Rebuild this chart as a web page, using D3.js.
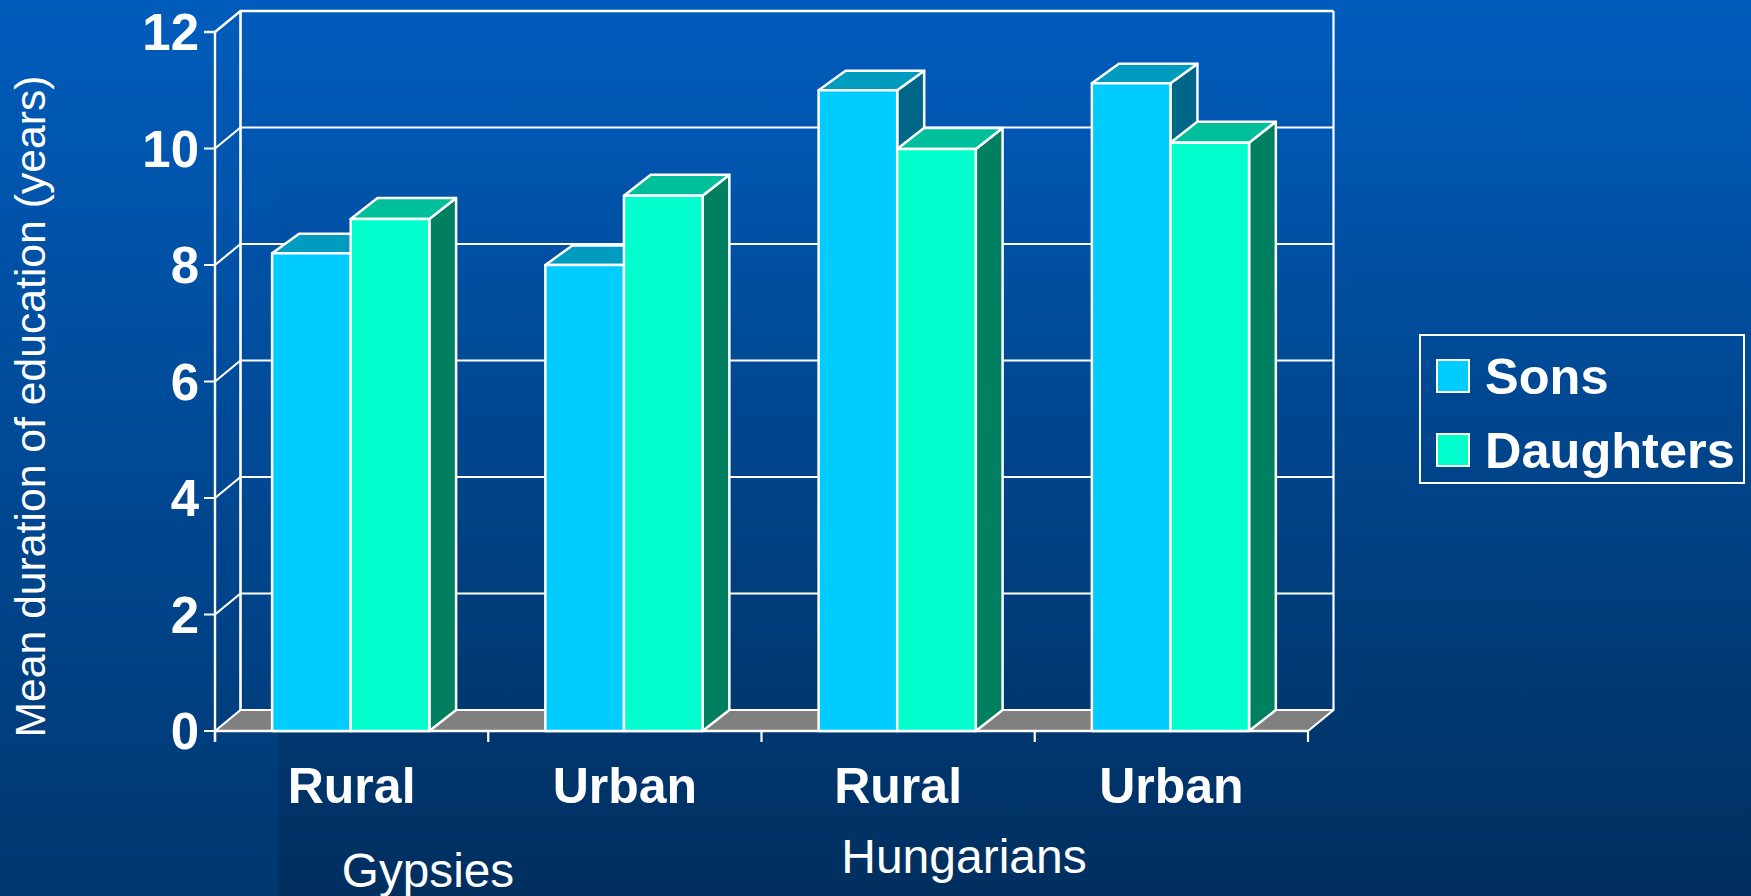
<!DOCTYPE html>
<html><head><meta charset="utf-8">
<style>html,body{margin:0;padding:0;background:#003060;overflow:hidden}svg{display:block}
text{font-family:"Liberation Sans",Arial,sans-serif;fill:#fff}</style>
<script src="https://cdn.jsdelivr.net/npm/d3@7/dist/d3.min.js"></script></head><body>
<script>
const categories=["Rural","Urban","Rural","Urban"];
const groupLabels=["Gypsies","Hungarians"];
const seriesNames=["Sons","Daughters"];
const sons=[8.2,8.0,11.0,11.12];
const daughters=[8.79,9.19,9.99,10.1];
const yTicks=[0,2,4,6,8,10,12];
const yTitle="Mean duration of education (years)";

const W=1751,H=896;
const svg=d3.select("body").append("svg").attr("width",W).attr("height",H);
const defs=svg.append("defs");
const g=defs.append("linearGradient").attr("id","bg").attr("x1",0).attr("y1",0).attr("x2",0).attr("y2",1);
g.append("stop").attr("offset",0).attr("stop-color","#005cbc");
g.append("stop").attr("offset",1).attr("stop-color","#00376f");
const g2=defs.append("linearGradient").attr("id","shade").attr("x1",0).attr("y1",0).attr("x2",0).attr("y2",1);
g2.append("stop").attr("offset",0).attr("stop-color","#000").attr("stop-opacity",0);
g2.append("stop").attr("offset",1).attr("stop-color","#000").attr("stop-opacity",0.15);
svg.append("rect").attr("width",W).attr("height",H).attr("fill","url(#bg)");
svg.append("rect").attr("x",278).attr("y",130).attr("width",W-278).attr("height",H-130).attr("fill","url(#shade)");

const dx=25.5,dy=-21;
const x=d3.scaleBand().domain(d3.range(categories.length)).range([215,1308]);
const y=d3.scaleLinear().domain([0,12]).range([731,32]);
const inner=d3.scaleBand().domain(seriesNames).range([57.1,57.1+157.2]);
const colors={Sons:{front:"#00ccff",top:"#009cc0",side:"#006688",ddx:27,ddy:-19.5},Daughters:{front:"#00ffcc",top:"#00c09c",side:"#008060",ddx:26.8,ddy:-21}};
const line=(p,st=2.4)=>svg.append("path").attr("d",d3.line()(p)).attr("fill","none").attr("stroke","#fff").attr("stroke-width",st);
const [x0,x1]=x.range();

// floor
svg.append("path").attr("d",d3.line()([[x0,y(0)],[x0+dx,y(0)+dy],[x1+dx,y(0)+dy],[x1,y(0)]])+"Z").attr("fill","#808080");
// back wall + grid + side wall
yTicks.forEach(t=>{
  line([[x0-11,y(t)],[x0,y(t)],[x0+dx,y(t)+dy],[x1+dx,y(t)+dy]],t===12?2.6:2.2);
});
line([[x0+dx,y(12)+dy],[x0+dx,y(0)+dy]],2.6);
line([[x1+dx,y(12)+dy],[x1+dx,y(0)+dy],[x1,y(0)]],2.2);
line([[x0,y(12)],[x0,y(0)+11]],2.4);
// x ticks
d3.range(categories.length+1).forEach(i=>{
  const px=x0+i*x.bandwidth();
  line([[px,y(0)],[px,y(0)+11]],2.2);
});
line([[x0,y(0)],[x1,y(0)]],2.6);

// bars
const rows=categories.flatMap((c,i)=>[{i,s:"Sons",v:sons[i]},{i,s:"Daughters",v:daughters[i]}]);
rows.forEach(d=>{
  const l=x(d.i)+inner(d.s),r=l+inner.bandwidth(),t=y(d.v),b=y(0),c=colors[d.s];
  const poly=(p,f)=>svg.append("path").attr("d",d3.line()(p)+"Z").attr("fill",f).attr("stroke","#fff").attr("stroke-width",2.5).attr("stroke-linejoin","round");
  poly([[r,b],[r+c.ddx,b+c.ddy],[r+c.ddx,t+c.ddy],[r,t]],c.side);
  poly([[l,t],[l+c.ddx,t+c.ddy],[r+c.ddx,t+c.ddy],[r,t]],c.top);
  poly([[l,b],[l,t],[r,t],[r,b]],c.front);
});

// y tick labels
svg.append("g").selectAll("text").data(yTicks).join("text")
 .attr("x",199).attr("y",d=>y(d)+18).attr("text-anchor","end")
 .attr("font-size",51).attr("font-weight","bold").text(d=>d);
// category labels
svg.append("g").selectAll("text").data(categories).join("text")
 .attr("x",(d,i)=>x(i)+x.bandwidth()/2).attr("y",803).attr("text-anchor","middle")
 .attr("font-size",50).attr("font-weight","bold").text(d=>d);
// group labels
svg.append("text").attr("x",428).attr("y",887).attr("text-anchor","middle").attr("font-size",47.7).text(groupLabels[0]);
svg.append("text").attr("x",964).attr("y",873).attr("text-anchor","middle").attr("font-size",48).text(groupLabels[1]);
// y title
svg.append("text").attr("transform","translate(45,406.5) rotate(-90)").attr("text-anchor","middle").attr("font-size",42.7).text(yTitle);
// legend
svg.append("rect").attr("x",1420).attr("y",335).attr("width",324).attr("height",148).attr("fill","none").attr("stroke","#fff").attr("stroke-width",2);
seriesNames.forEach((n,i)=>{
  const ly=[377,451][i];
  svg.append("rect").attr("x",1437).attr("y",ly-17).attr("width",32).attr("height",32).attr("fill",colors[n].front).attr("stroke","#fff").attr("stroke-width",2);
  svg.append("text").attr("x",1485).attr("y",ly+17).attr("font-size",50.5).attr("font-weight","bold").text(n);
});
</script></body></html>
